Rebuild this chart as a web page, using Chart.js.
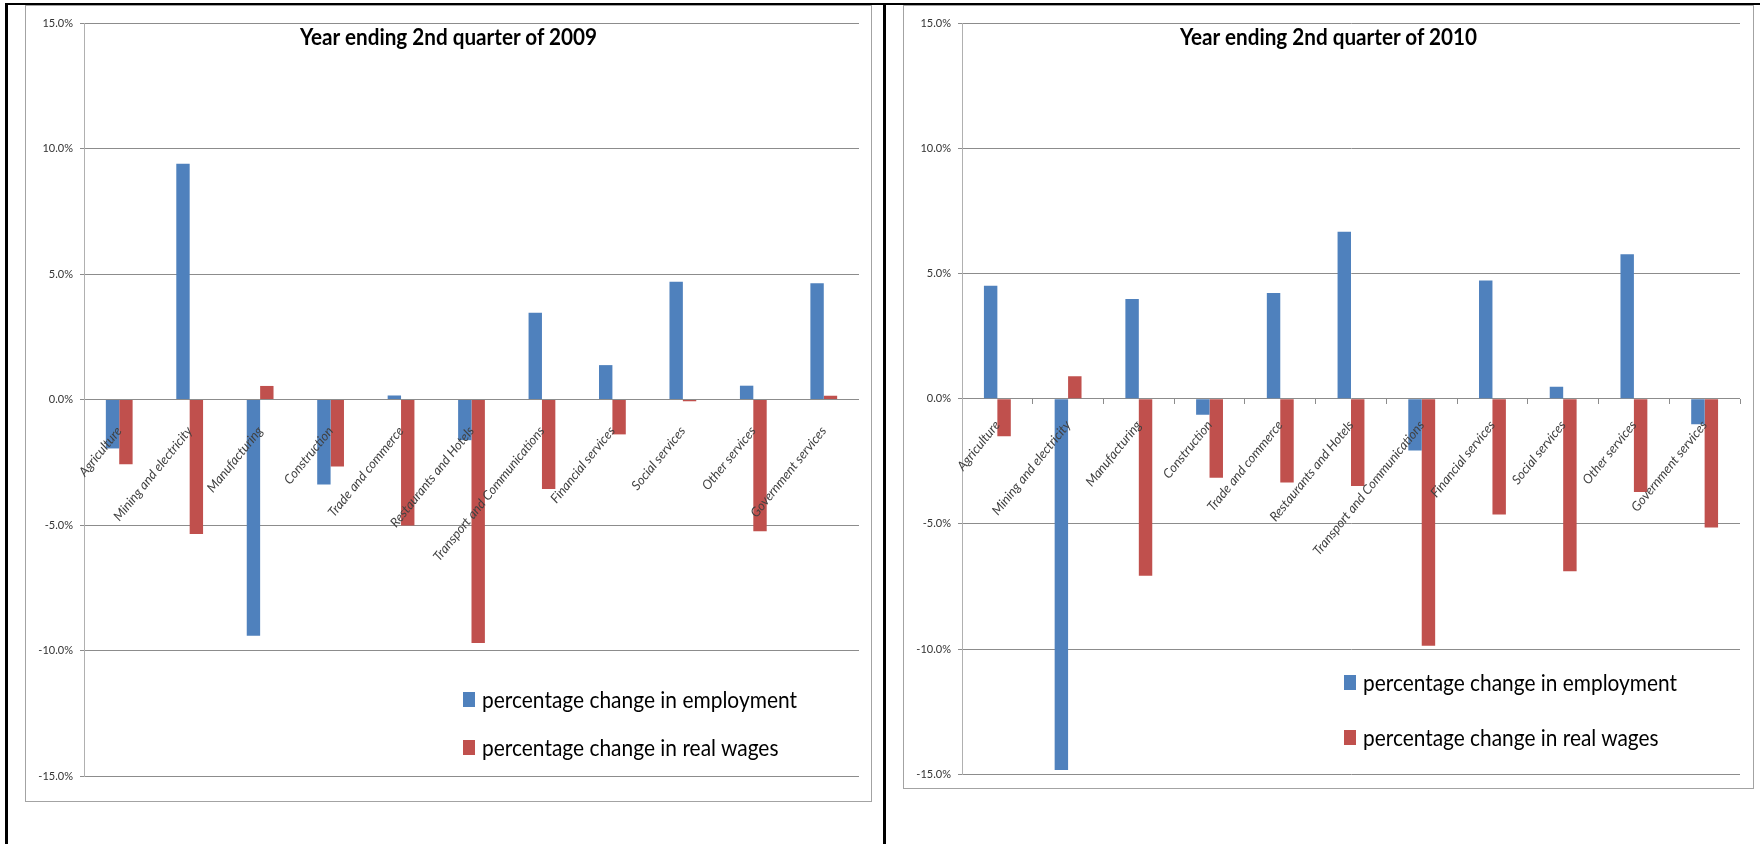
<!DOCTYPE html>
<html>
<head>
<meta charset="utf-8">
<script src="https://cdn.jsdelivr.net/npm/chart.js@4.4.1/dist/chart.umd.min.js"></script>
<style>
  html, body { margin: 0; padding: 0; background: #fff; }
  body { width: 1760px; height: 844px; position: relative; overflow: hidden; font-family: Lato, 'Open Sans', sans-serif; }
  .rule { position: absolute; background: #000; }
  .frame { position: absolute; border: 1px solid #a3a3a3; box-sizing: border-box; }
  .frame canvas { position: absolute; left: 0; top: 0; }
  .title { position: absolute; font-weight: bold; font-size: 23px; line-height: 1; white-space: nowrap; color: #000; transform-origin: 0 0; }
  .legend-text { position: absolute; font-size: 24px; line-height: 1; white-space: nowrap; color: #000; transform-origin: 0 0; }
  .legend-mark { position: absolute; width: 12px; height: 15px; }
</style>
</head>
<body>
<div class="rule" style="left:5px; top:3px; width:1755px; height:2px;"></div>
<div class="rule" style="left:5px; top:3px; width:3px; height:841px;"></div>
<div class="rule" style="left:883px; top:3px; width:3px; height:841px;"></div>

<script>
// 업종 분류
const categories = [
    'Agriculture', 'Mining and electricity', 'Manufacturing', 'Construction', 'Trade and commerce',
    'Restaurants and Hotels', 'Transport and Communications', 'Financial services', 'Social services',
    'Other services', 'Government services'
];
const seriesNames = ['percentage change in employment', 'percentage change in real wages'];
const panelTitles = ['Year ending 2nd quarter of 2009', 'Year ending 2nd quarter of 2010'];

// 값 (%)
const employment2009 = [-1.95, 9.39, -9.41, -3.39, 0.16, -1.62, 3.46, 1.37, 4.69, 0.55, 4.63];
const wages2009      = [-2.58, -5.36, 0.54, -2.67, -5.02, -9.70, -3.57, -1.39, -0.07, -5.25, 0.15];
const employment2010 = [4.51, -14.82, 3.98, -0.64, 4.22, 6.67, -2.07, 4.72, 0.48, 5.77, -1.02];
const wages2010      = [-1.50, 0.90, -7.07, -3.16, -3.35, -3.49, -9.86, -4.62, -6.89, -3.73, -5.14];

const yTicks = [-15, -10, -5, 0, 5, 10, 15];

const colors = { employment: '#4F81BD', wages: '#C0504D', grid: '#8c8c8c', axis: '#b0b0b0', tick: '#333333', label: '#404040' };

// 패널 배치
const panels = [
    {
        id: 'chart2009', employment: employment2009, wages: wages2009, title: panelTitles[0], xTickMarks: false,
        frame: { left: 25, top: 5, width: 847, height: 797 }, pad: { top: 17, right: 12, bottom: 25 },
        titleBox: { left: 300, top: 25, width: 297 },
        legendBox: { mark: 463, text: 482, rows: [692, 740], width: 315 }
    },
    {
        id: 'chart2010', employment: employment2010, wages: wages2010, title: panelTitles[1], xTickMarks: true,
        frame: { left: 903, top: 5, width: 851, height: 784 }, pad: { top: 17, right: 13, bottom: 12 },
        titleBox: { left: 1180, top: 25, width: 297 },
        legendBox: { mark: 1344, text: 1363, rows: [675, 730], width: 314 }
    }
];

function fitWidth(el, target) {
    const w = el.getBoundingClientRect().width;
    if (w > 0) el.style.transform = `scaleX(${target / w})`;
}

function buildChart(panel) {
    const frame = document.createElement('div');
    frame.className = 'frame';
    Object.assign(frame.style, {
        left: panel.frame.left + 'px', top: panel.frame.top + 'px',
        width: panel.frame.width + 'px', height: panel.frame.height + 'px'
    });
    const canvas = document.createElement('canvas');
    canvas.id = panel.id;
    canvas.width = panel.frame.width - 2;
    canvas.height = panel.frame.height - 2;
    frame.appendChild(canvas);
    document.body.appendChild(frame);

    return new Chart(canvas, {
        type: 'bar',
        data: {
            labels: categories,
            datasets: [
                { label: seriesNames[0], data: panel.employment, backgroundColor: colors.employment },
                { label: seriesNames[1], data: panel.wages, backgroundColor: colors.wages }
            ]
        },
        options: {
            responsive: false,
            animation: false,
            layout: { padding: { left: 0, ...panel.pad } },
            plugins: { legend: { display: false }, tooltip: { enabled: false } },
            datasets: { bar: { categoryPercentage: 0.38, barPercentage: 1 } },
            scales: {
                x: {
                    position: { y: 0 },
                    offset: true,
                    grid: { display: panel.xTickMarks, drawOnChartArea: false, tickLength: 5, color: colors.grid, offset: true },
                    border: { display: false },
                    ticks: {
                        z: 1, // 라벨을 막대 위에 그림
                        autoSkip: false, minRotation: 51, maxRotation: 51,
                        padding: panel.xTickMarks ? 14 : 19,
                        color: colors.label,
                        font: { family: 'Lato', size: 13, style: 'italic' }
                    },
                    afterFit: s => { s.height = 0; }
                },
                y: {
                    min: yTicks[0],
                    max: yTicks[yTicks.length - 1],
                    afterBuildTicks: s => { s.ticks = yTicks.map(v => ({ value: v })); },
                    ticks: { padding: 7, color: colors.tick, font: { family: 'Lato', size: 11 }, callback: v => v.toFixed(1) + '%' },
                    grid: { color: colors.grid, tickLength: 4 },
                    border: { color: colors.axis },
                    afterFit: s => { s.width = 58; }
                }
            }
        }
    });
}

function renderTitle(panel) {
    const el = document.createElement('div');
    el.className = 'title';
    el.textContent = panel.title;
    el.style.left = panel.titleBox.left + 'px';
    el.style.top = panel.titleBox.top + 'px';
    document.body.appendChild(el);
    fitWidth(el, panel.titleBox.width);
}

// 범례는 차트 데이터셋에서 생성
function renderLegend(chart, panel) {
    const box = panel.legendBox;
    let scale = 1;
    chart.data.datasets.forEach((ds, i) => {
        const top = box.rows[i];
        const mark = document.createElement('div');
        mark.className = 'legend-mark';
        Object.assign(mark.style, { left: box.mark + 'px', top: top + 'px', background: ds.backgroundColor });
        const text = document.createElement('div');
        text.className = 'legend-text';
        text.textContent = ds.label;
        Object.assign(text.style, { left: box.text + 'px', top: (top + 16 - 21) + 'px' });
        document.body.appendChild(mark);
        document.body.appendChild(text);
        if (i === 0) scale = box.width / text.getBoundingClientRect().width;
        text.style.transform = `scaleX(${scale})`;
    });
}

panels.forEach(panel => {
    const chart = buildChart(panel);
    renderTitle(panel);
    renderLegend(chart, panel);
});
</script>
</body>
</html>
